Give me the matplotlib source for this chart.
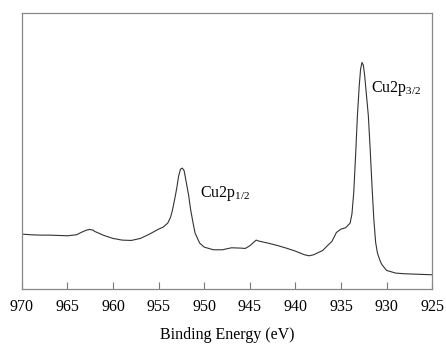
import matplotlib
matplotlib.use('Agg')
import matplotlib.pyplot as plt

# binding energy (eV) and intensity (arb. units)
energy = [970, 969, 968, 967, 966, 965, 964, 963.5, 963, 962.6, 962.2, 962, 961, 960, 959,
          958, 957, 956, 955, 954.5, 954, 953.7, 953.5, 953.2, 953, 952.8, 952.6, 952.4,
          952.2, 952, 951.7, 951.5, 951.2, 951, 950.5, 950, 949, 948, 947, 946, 945.5,
          945, 944.6, 944.3, 944, 943, 942, 941, 940, 939, 938.5, 938, 937, 936.5, 936,
          935.5, 935, 934.5, 934, 933.8, 933.6, 933.4, 933.2, 933, 932.85, 932.7, 932.55,
          932.4, 932.2, 932, 931.8, 931.6, 931.4, 931.2, 931, 930.7, 930.5, 930, 929,
          928, 927, 926, 925]
intensity = [165, 163, 162, 162, 161, 160, 163, 170, 176, 179, 177, 173, 161, 152, 147,
             146, 152, 165, 180, 186, 198, 215, 235, 275, 305, 340, 360, 363, 355, 325,
             280, 240, 195, 168, 138, 126, 118, 118, 124, 123, 122, 130, 140, 147, 144,
             138, 131, 123, 114, 103, 100, 103, 116, 130, 143, 170, 180, 184, 198, 225,
             290, 400, 520, 610, 660, 680, 672, 640, 580, 520, 420, 310, 210, 140, 108,
             84, 73, 56, 48, 46, 45, 44, 43]

tick_vals = [970, 965, 960, 955, 950, 945, 940, 935, 930, 925]

plt.rcParams['font.family'] = ['Liberation Serif', 'DejaVu Serif']

fig = plt.figure(figsize=(4.46, 3.45), dpi=100)
ax = fig.add_axes([0.049, 0.162, 0.92, 0.8])

ax.plot(energy, intensity, color='#333333', lw=0.8)

ax.set_xlim(970, 925)
ax.set_ylim(0, 828)
ax.set_xticks(tick_vals)
ax.set_xticklabels([str(t) for t in tick_vals], fontsize=11.5)
ax.set_yticks([])
ax.tick_params(axis='x', direction='in', length=5, width=0.8, color='#777777', pad=7)
ax.tick_params(top=False, right=False)
for s in ax.spines.values():
    s.set_color('#888888')
    s.set_linewidth(0.9)

ax.set_xlabel('Binding Energy (eV)', fontsize=11.5, labelpad=9)

ax.text(931.7, 603, r'Cu2p$_{\mathregular{3/2}}$', fontsize=11.5, va='center', ha='left')
ax.text(950.5, 288, r'Cu2p$_{\mathregular{1/2}}$', fontsize=11.5, va='center', ha='left')

fig.savefig('out.png', dpi=100)
